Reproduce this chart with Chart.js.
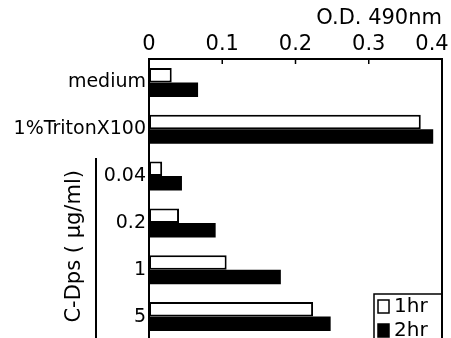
<!DOCTYPE html>
<html>
<head>
<meta charset="utf-8">
<script src="https://cdn.jsdelivr.net/npm/chart.js@4"></script>
<style>
  html, body { margin: 0; padding: 0; background: #fff; overflow: hidden; }
  #wrap { position: relative; width: 451px; height: 340px; }
</style>
</head>
<body>
<div id="wrap"><canvas id="odChart"></canvas></div>
<script>
const categories = ['medium', '1%TritonX100', '0.04', '0.2', '1', '5'];
const oneHour = [0.031, 0.371, 0.018, 0.041, 0.106, 0.224];
const twoHour = [0.067, 0.388, 0.045, 0.091, 0.180, 0.248];
const xTicks = [0, 0.1, 0.2, 0.3, 0.4];
const xTitle = 'O.D. 490nm';
const groupTitle = 'C-Dps ( \u03bcg/ml)';
const seriesNames = ['1hr', '2hr'];

const FONT = "'DejaVu Sans', sans-serif";
Chart.defaults.color = '#000';

// frame, inward ticks, concentration bracket and legend box
const extras = {
    id: 'extras',
    afterDraw(chart) {
        const ctx = chart.ctx;
        const a = chart.chartArea;
        const x = chart.scales.x;
        const y = chart.scales.y;
        ctx.save();
        ctx.strokeStyle = '#000';
        ctx.lineWidth = 2;
        ctx.strokeRect(a.left, a.top, a.right - a.left, a.bottom - a.top);

        ctx.lineWidth = 1.5;
        xTicks.slice(1, -1).forEach(v => {
            const px = x.getPixelForValue(v);
            ctx.beginPath();
            ctx.moveTo(px, a.top);
            ctx.lineTo(px, a.top + 5);
            ctx.stroke();
        });

        // bracket + rotated label for the C-Dps doses
        const bx = a.left - 53;
        const yTop = y.getPixelForValue(2) - 18;
        ctx.lineWidth = 2;
        ctx.beginPath();
        ctx.moveTo(bx, yTop);
        ctx.lineTo(bx, a.bottom);
        ctx.stroke();
        const midY = (y.getPixelForValue(2) + y.getPixelForValue(5)) / 2;
        ctx.save();
        ctx.translate(a.left - 74, midY);
        ctx.rotate(-Math.PI / 2);
        ctx.font = '21px ' + FONT;
        ctx.fillStyle = '#000';
        ctx.textAlign = 'center';
        ctx.textBaseline = 'middle';
        ctx.fillText(groupTitle, 0, 0);
        ctx.restore();

        // legend
        const lx = a.right - 68, ly = a.bottom - 46;
        ctx.lineWidth = 1.5;
        ctx.strokeRect(lx, ly, 68, 50);
        ctx.font = '20px ' + FONT;
        ctx.textBaseline = 'middle';
        ctx.textAlign = 'left';
        chart.data.datasets.forEach((ds, i) => {
            const ry = ly + 12 + i * 24;
            ctx.fillStyle = ds.backgroundColor;
            ctx.fillRect(lx + 4, ry - 6, 11, 13);
            ctx.lineWidth = 1.5;
            ctx.strokeRect(lx + 4, ry - 6, 11, 13);
            ctx.fillStyle = '#000';
            ctx.fillText(ds.label, lx + 20, ry + 1);
        });
        ctx.restore();
    }
};

const ctx = document.getElementById('odChart').getContext('2d');
const odChart = new Chart(ctx, {
    type: 'bar',
    data: {
        labels: categories,
        datasets: [{
            label: seriesNames[0],
            data: oneHour,
            backgroundColor: '#fff',
            borderColor: '#000',
            borderWidth: 2,
            borderSkipped: false
        }, {
            label: seriesNames[1],
            data: twoHour,
            backgroundColor: '#000',
            borderWidth: 0
        }]
    },
    options: {
        indexAxis: 'y',
        responsive: true,
        maintainAspectRatio: false,
        animation: false,
        categoryPercentage: 0.62,
        barPercentage: 1.0,
        layout: { padding: { left: 0, right: 9, top: 0, bottom: 0 } },
        plugins: { legend: { display: false }, tooltip: { enabled: false } },
        scales: {
            x: {
                position: 'top',
                min: 0,
                max: 0.4,
                afterBuildTicks(s) { s.ticks = xTicks.map(v => ({ value: v })); },
                ticks: {
                    font: { family: FONT, size: 21 },
                    padding: 2,
                    maxRotation: 0,
                    callback: v => (v === 0.4 ? '0.4   ' : String(v))
                },
                grid: { display: false, drawTicks: false },
                border: { display: false },
                title: {
                    display: true,
                    text: xTitle,
                    align: 'end',
                    font: { family: FONT, size: 21 },
                    padding: { top: 6, bottom: 0 }
                },
                afterFit(s) { s.height = 59; s.paddingLeft = 0; s.paddingRight = 0; }
            },
            y: {
                grid: { display: false, drawTicks: false },
                border: { display: false },
                ticks: { font: { family: FONT, size: 19 }, padding: 3 },
                afterFit(s) { s.width = 149; s.paddingTop = 0; s.paddingBottom = 0; }
            }
        }
    },
    plugins: [extras]
});
</script>
</body>
</html>
